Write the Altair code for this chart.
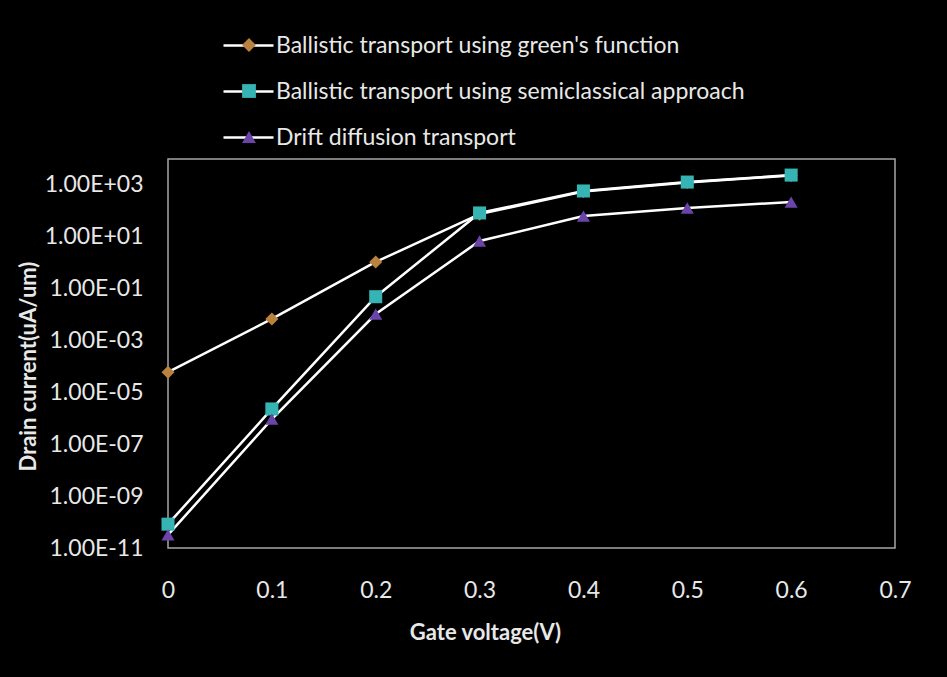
import altair as alt
import pandas as pd

# Gate voltage sweep (V)
gate_voltage = [0.0, 0.1, 0.2, 0.3, 0.4, 0.5, 0.6]

# Drain current (uA/um) for each transport model
series_names = [
    "Ballistic transport using green's function",
    "Ballistic transport using semiclassical approach",
    "Drift diffusion transport",
]
green_function = [6.0e-5, 6.8e-3, 1.07, 75.0, 560.0, 1250.0, 2300.0]
semiclassical = [8.3e-11, 2.3e-6, 0.049, 83.0, 585.0, 1290.0, 2400.0]
drift_diffusion = [3.2e-11, 9.3e-7, 0.0105, 6.9, 63.0, 129.0, 219.0]

marker_colors = ["#b9823f", "#36b4b4", "#6a44a8"]
marker_shapes = ["diamond", "square", "triangle-up"]

rows = []
for name, values in zip(series_names, [green_function, semiclassical, drift_diffusion]):
    for v, i in zip(gate_voltage, values):
        rows.append({"vg": v, "current": i, "series": name})
df = pd.DataFrame(rows)

# marker legend keys differ from the line legend keys so the two legends stay separate
marker_keys = [n + " " for n in series_names]

label_font = "Lato"
text_color = "#e8e8e8"

x_enc = alt.X(
    "vg:Q",
    scale=alt.Scale(domain=[0, 0.7], nice=False, zero=False),
    axis=alt.Axis(
        values=[0, 0.1, 0.2, 0.3, 0.4, 0.5, 0.6, 0.7],
        labelExpr="datum.value == 0 ? '0' : format(datum.value, '.1f')",
        labelFlush=False,
        ticks=False,
        domain=False,
        grid=False,
        labelPadding=31,
        labelFontSize=23,
        labelColor=text_color,
        labelFont=label_font,
        title="Gate voltage(V)",
        titleFont=label_font,
        titleFontSize=22,
        titleFontWeight="bold",
        titleColor=text_color,
        titleX=317,
        titleY=84,
        titleBaseline="middle",
        titleAnchor="start",
        titleAlign="center",
    ),
)

y_enc = alt.Y(
    "current:Q",
    scale=alt.Scale(type="log", domain=[1e-11, 1e4], nice=False),
    axis=alt.Axis(
        values=[1e-11, 1e-9, 1e-7, 1e-5, 1e-3, 1e-1, 1e1, 1e3],
        labelExpr=(
            "'1.00E' + (round(log(datum.value)/LN10) >= 0 ? '+' : '-') + "
            "(abs(round(log(datum.value)/LN10)) < 10 ? '0' : '') + "
            "abs(round(log(datum.value)/LN10))"
        ),
        ticks=False,
        domain=False,
        grid=False,
        labelPadding=25,
        labelFontSize=23,
        labelColor=text_color,
        labelFont=label_font,
        title="Drain current(uA/um)",
        titleFont=label_font,
        titleFontSize=22,
        titleFontWeight="bold",
        titleColor=text_color,
        titleX=-140,
        titleY=207,
        titleAngle=-90,
        titleBaseline="middle",
        titleAlign="center",
    ),
)

lines = alt.Chart(df).mark_line(strokeWidth=2.5).encode(
    x=x_enc,
    y=y_enc,
    stroke=alt.Stroke(
        "series:N",
        scale=alt.Scale(domain=series_names, range=["#ffffff"] * 3),
        legend=alt.Legend(
            title=None,
            orient="none",
            legendX=54,
            legendY=-140,
            symbolType="stroke",
            symbolSize=2500,
            symbolStrokeWidth=2.5,
            symbolStrokeColor="#ffffff",
            labelFont=label_font,
            labelFontSize=23,
            labelColor=text_color,
            labelOffset=1,
            labelLimit=700,
            rowPadding=7,
            padding=0,
        ),
    ),
    order="vg:Q",
)

points = alt.Chart(df).transform_calculate(
    model="datum.series + ' '"
).mark_point(filled=True, opacity=1, size=170).encode(
    x="vg:Q",
    y="current:Q",
    fill=alt.Fill(
        "model:N",
        scale=alt.Scale(domain=marker_keys, range=marker_colors),
        legend=alt.Legend(
            title=None,
            orient="none",
            legendX=74,
            legendY=-121,
            symbolSize=190,
            symbolStrokeWidth=0,
            labelExpr="''",
            labelFontSize=1,
            labelOffset=0,
            rowPadding=32,
            padding=0,
        ),
    ),
    shape=alt.Shape(
        "model:N",
        scale=alt.Scale(domain=marker_keys, range=marker_shapes),
    ),
)

chart = (
    alt.layer(lines, points)
    .properties(
        width=727,
        height=389,
        padding={"left": 168, "top": 159, "right": 52, "bottom": 129},
        autosize=alt.AutoSizeParams(type="none"),
        background="#000000",
    )
    .configure_view(stroke="#a6a6a6", strokeWidth=1.5)
)

chart.save("out.html", embed_options={"renderer": "svg", "actions": False})
